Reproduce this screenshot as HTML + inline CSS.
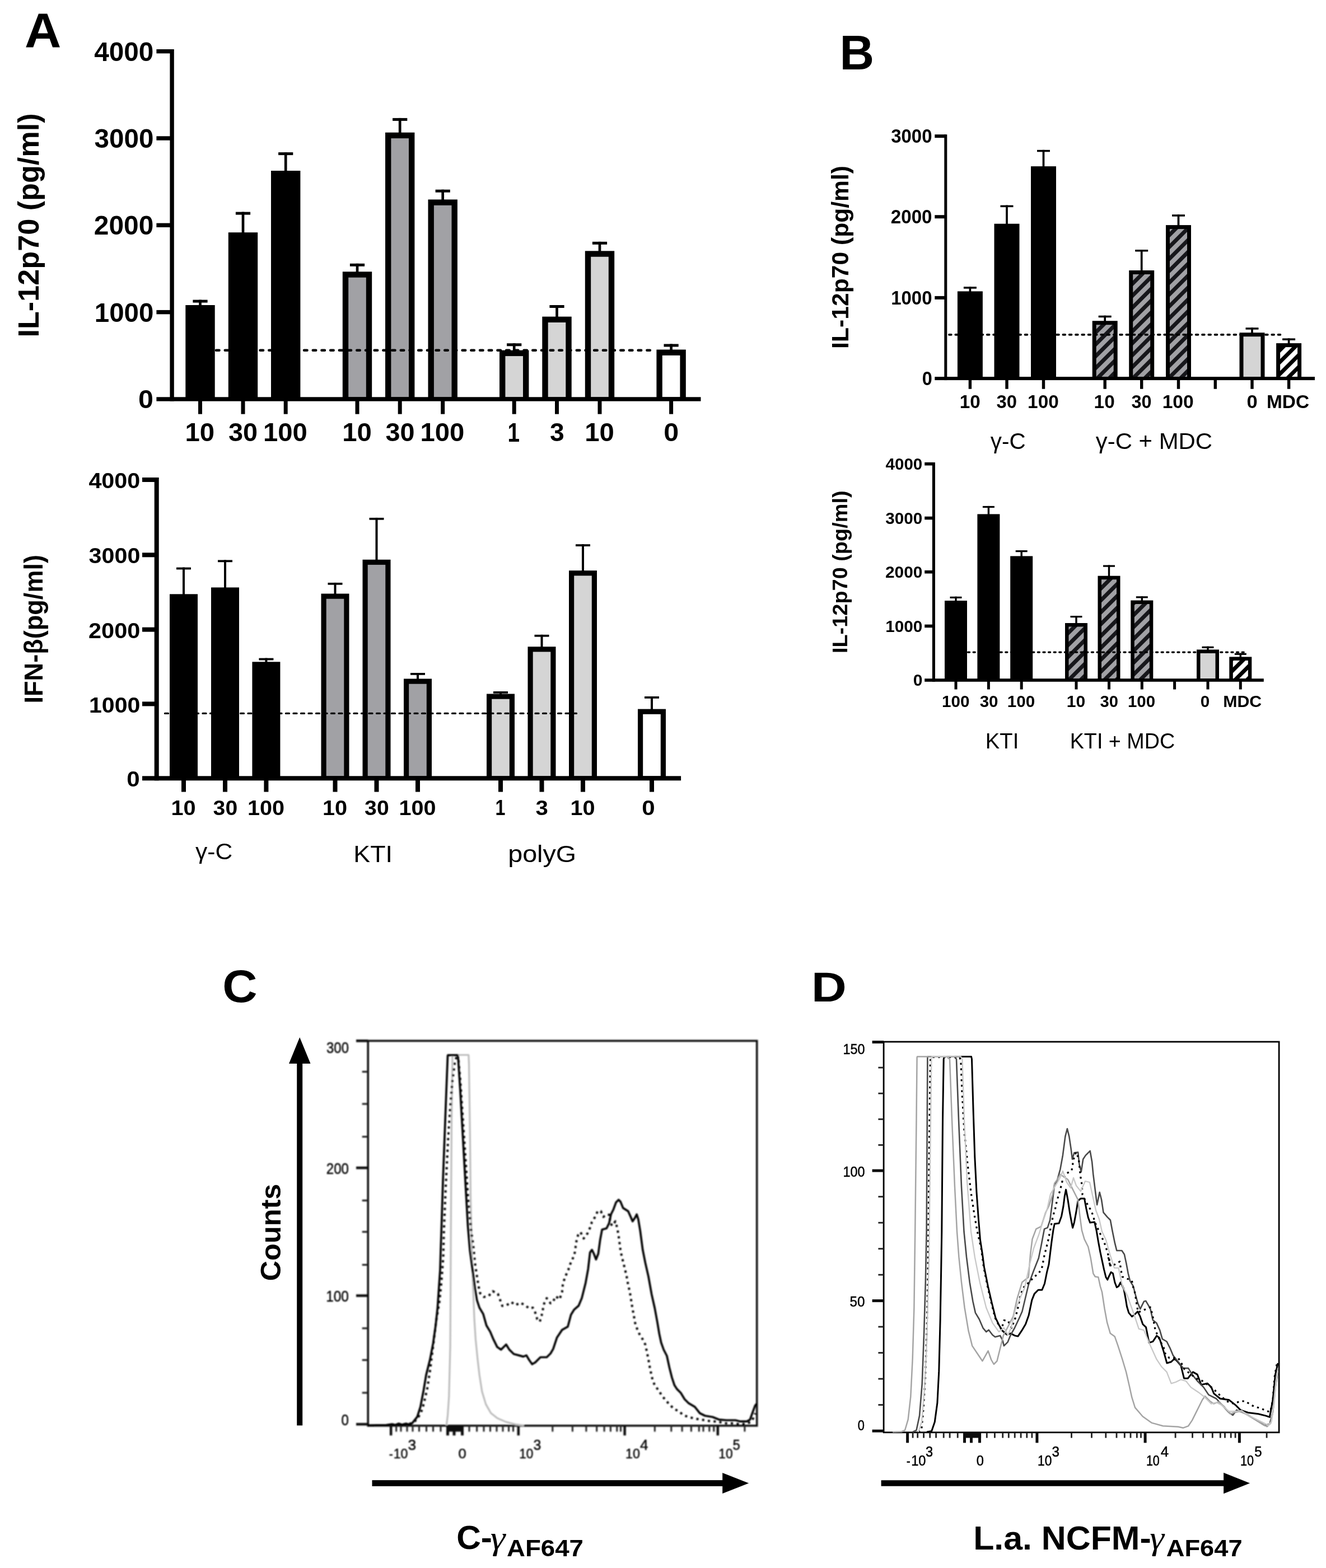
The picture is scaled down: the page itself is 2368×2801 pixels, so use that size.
<!DOCTYPE html>
<html><head><meta charset="utf-8"><title>Figure</title>
<style>html,body{margin:0;padding:0;background:#fff;overflow:hidden}svg{display:block}</style></head>
<body><svg width="2368" height="2801" viewBox="0 0 2368 2801"><defs><pattern id="hg" patternUnits="userSpaceOnUse" width="15" height="15" patternTransform="rotate(-45)"><rect width="15" height="15" fill="#a1a1a5"/><rect x="0" y="0" width="15" height="7.0" fill="#17171b"/></pattern><pattern id="hw" patternUnits="userSpaceOnUse" width="15" height="15" patternTransform="rotate(-45)"><rect width="15" height="15" fill="#fff"/><rect x="0" y="0" width="15" height="7.0" fill="#000"/></pattern><filter id="soft" x="-2%" y="-2%" width="104%" height="104%"><feGaussianBlur stdDeviation="0.8"/></filter><filter id="soft2" x="-2%" y="-2%" width="104%" height="104%"><feGaussianBlur stdDeviation="0.5"/></filter></defs><text transform="translate(43.94,84.10) scale(1.0295,1.0000)" font-family='"Liberation Sans", sans-serif' font-size="87.85" font-weight="bold" fill="#000">A</text>
<text transform="translate(1499.45,124.00) scale(0.9752,1.0000)" font-family='"Liberation Sans", sans-serif' font-size="87.42" font-weight="bold" fill="#000">B</text>
<text transform="translate(397.15,1789.68) scale(1.0559,1.0000)" font-family='"Liberation Sans", sans-serif' font-size="81.70" font-weight="bold" fill="#000">C</text>
<text transform="translate(1449.04,1788.90) scale(1.1825,1.0000)" font-family='"Liberation Sans", sans-serif' font-size="73.45" font-weight="bold" fill="#000">D</text>
<rect x="355.15" y="535.60" width="4.70" height="11.40" fill="#000"/>
<rect x="344.40" y="535.60" width="26.20" height="5.00" fill="#000"/>
<rect x="331.30" y="545.00" width="52.40" height="168.00" fill="#000"/>
<rect x="431.65" y="378.60" width="4.70" height="38.60" fill="#000"/>
<rect x="420.90" y="378.60" width="26.20" height="5.00" fill="#000"/>
<rect x="407.80" y="415.20" width="52.40" height="297.80" fill="#000"/>
<rect x="507.85" y="272.10" width="4.70" height="34.90" fill="#000"/>
<rect x="497.10" y="272.10" width="26.20" height="5.00" fill="#000"/>
<rect x="484.00" y="305.00" width="52.40" height="408.00" fill="#000"/>
<rect x="635.65" y="470.80" width="4.70" height="16.50" fill="#000"/>
<rect x="624.90" y="470.80" width="26.20" height="5.00" fill="#000"/>
<rect x="611.80" y="485.30" width="52.40" height="227.70" fill="#000"/>
<rect x="622.20" y="495.70" width="31.60" height="213.60" fill="#a1a1a5"/>
<rect x="711.85" y="210.90" width="4.70" height="27.80" fill="#000"/>
<rect x="701.10" y="210.90" width="26.20" height="5.00" fill="#000"/>
<rect x="688.00" y="236.70" width="52.40" height="476.30" fill="#000"/>
<rect x="698.40" y="247.10" width="31.60" height="462.20" fill="#a1a1a5"/>
<rect x="788.35" y="338.70" width="4.70" height="19.70" fill="#000"/>
<rect x="777.60" y="338.70" width="26.20" height="5.00" fill="#000"/>
<rect x="764.50" y="356.40" width="52.40" height="356.60" fill="#000"/>
<rect x="774.90" y="366.80" width="31.60" height="342.50" fill="#a1a1a5"/>
<rect x="915.85" y="613.30" width="4.70" height="14.40" fill="#000"/>
<rect x="905.10" y="613.30" width="26.20" height="5.00" fill="#000"/>
<rect x="892.00" y="625.70" width="52.40" height="87.30" fill="#000"/>
<rect x="902.40" y="636.10" width="31.60" height="73.20" fill="#d5d5d5"/>
<rect x="992.15" y="545.00" width="4.70" height="22.60" fill="#000"/>
<rect x="981.40" y="545.00" width="26.20" height="5.00" fill="#000"/>
<rect x="968.30" y="565.60" width="52.40" height="147.40" fill="#000"/>
<rect x="978.70" y="576.00" width="31.60" height="133.30" fill="#d5d5d5"/>
<rect x="1068.65" y="431.80" width="4.70" height="18.50" fill="#000"/>
<rect x="1057.90" y="431.80" width="26.20" height="5.00" fill="#000"/>
<rect x="1044.80" y="448.30" width="52.40" height="264.70" fill="#000"/>
<rect x="1055.20" y="458.70" width="31.60" height="250.60" fill="#d5d5d5"/>
<rect x="1196.25" y="614.50" width="4.70" height="12.00" fill="#000"/>
<rect x="1185.50" y="614.50" width="26.20" height="5.00" fill="#000"/>
<rect x="1172.40" y="624.50" width="52.40" height="88.50" fill="#000"/>
<rect x="1182.80" y="634.90" width="31.60" height="74.40" fill="#fff"/>
<line x1="386" y1="625.8" x2="1171" y2="625.8" stroke="#000" stroke-width="4.4" stroke-dasharray="5.6 10.1" stroke-linecap="round"/>
<rect x="303.40" y="88.00" width="7.40" height="628.70" fill="#000"/>
<rect x="279.40" y="709.30" width="972.10" height="7.40" fill="#000"/>
<rect x="279.40" y="88.00" width="27.70" height="7.40" fill="#000"/>
<rect x="279.40" y="243.30" width="27.70" height="7.40" fill="#000"/>
<rect x="279.40" y="398.60" width="27.70" height="7.40" fill="#000"/>
<rect x="279.40" y="553.90" width="27.70" height="7.40" fill="#000"/>
<rect x="354.00" y="713.00" width="7.00" height="26.70" fill="#000"/>
<rect x="430.50" y="713.00" width="7.00" height="26.70" fill="#000"/>
<rect x="506.70" y="713.00" width="7.00" height="26.70" fill="#000"/>
<rect x="634.50" y="713.00" width="7.00" height="26.70" fill="#000"/>
<rect x="710.70" y="713.00" width="7.00" height="26.70" fill="#000"/>
<rect x="787.20" y="713.00" width="7.00" height="26.70" fill="#000"/>
<rect x="914.70" y="713.00" width="7.00" height="26.70" fill="#000"/>
<rect x="991.00" y="713.00" width="7.00" height="26.70" fill="#000"/>
<rect x="1067.50" y="713.00" width="7.00" height="26.70" fill="#000"/>
<rect x="1195.10" y="713.00" width="7.00" height="26.70" fill="#000"/>
<text transform="translate(168.18,108.53) scale(1.0055,1.0000)" font-family='"Liberation Sans", sans-serif' font-size="47.49" font-weight="bold" fill="#000">4000</text>
<text transform="translate(168.43,263.71) scale(1.0067,1.0000)" font-family='"Liberation Sans", sans-serif' font-size="47.32" font-weight="bold" fill="#000">3000</text>
<text transform="translate(167.82,419.13) scale(1.0089,1.0000)" font-family='"Liberation Sans", sans-serif' font-size="47.49" font-weight="bold" fill="#000">2000</text>
<text transform="translate(168.73,574.62) scale(0.9972,1.0000)" font-family='"Liberation Sans", sans-serif' font-size="47.63" font-weight="bold" fill="#000">1000</text>
<text transform="translate(247.06,729.33) scale(1.0381,1.0000)" font-family='"Liberation Sans", sans-serif' font-size="46.64" font-weight="bold" fill="#000">0</text>
<text transform="translate(69.12,602.52) rotate(-90) scale(1.0192,1.0000)" font-family='"Liberation Sans", sans-serif' font-size="51.20" font-weight="bold" fill="#000">IL-12p70 (pg/ml)</text>
<text transform="translate(330.49,788.13) scale(1.0089,1.0000)" font-family='"Liberation Sans", sans-serif' font-size="46.93" font-weight="bold" fill="#000">10</text>
<text transform="translate(407.95,788.02) scale(1.0004,1.0000)" font-family='"Liberation Sans", sans-serif' font-size="46.76" font-weight="bold" fill="#000">30</text>
<text transform="translate(470.04,788.13) scale(1.0076,1.0000)" font-family='"Liberation Sans", sans-serif' font-size="46.93" font-weight="bold" fill="#000">100</text>
<text transform="translate(611.19,788.13) scale(1.0089,1.0000)" font-family='"Liberation Sans", sans-serif' font-size="46.93" font-weight="bold" fill="#000">10</text>
<text transform="translate(688.45,788.02) scale(1.0004,1.0000)" font-family='"Liberation Sans", sans-serif' font-size="46.76" font-weight="bold" fill="#000">30</text>
<text transform="translate(750.54,788.13) scale(1.0076,1.0000)" font-family='"Liberation Sans", sans-serif' font-size="46.93" font-weight="bold" fill="#000">100</text>
<text transform="translate(906.58,788.60) scale(0.8016,1.0000)" font-family='"Liberation Sans", sans-serif' font-size="48.29" font-weight="bold" fill="#000">1</text>
<text transform="translate(981.96,788.02) scale(0.9887,1.0000)" font-family='"Liberation Sans", sans-serif' font-size="46.76" font-weight="bold" fill="#000">3</text>
<text transform="translate(1044.19,788.13) scale(1.0089,1.0000)" font-family='"Liberation Sans", sans-serif' font-size="46.93" font-weight="bold" fill="#000">10</text>
<text transform="translate(1185.16,788.13) scale(1.0319,1.0000)" font-family='"Liberation Sans", sans-serif' font-size="46.93" font-weight="bold" fill="#000">0</text>
<rect x="326.00" y="1013.60" width="4.00" height="49.70" fill="#000"/>
<rect x="315.00" y="1013.60" width="26.00" height="3.80" fill="#000"/>
<rect x="303.00" y="1061.30" width="50.00" height="329.00" fill="#000"/>
<rect x="400.00" y="1000.40" width="4.00" height="51.00" fill="#000"/>
<rect x="389.00" y="1000.40" width="26.00" height="3.80" fill="#000"/>
<rect x="377.00" y="1049.40" width="50.00" height="340.90" fill="#000"/>
<rect x="473.40" y="1175.60" width="4.00" height="8.70" fill="#000"/>
<rect x="462.40" y="1175.60" width="26.00" height="3.80" fill="#000"/>
<rect x="450.40" y="1182.30" width="50.00" height="208.00" fill="#000"/>
<rect x="596.50" y="1040.90" width="4.00" height="21.60" fill="#000"/>
<rect x="585.50" y="1040.90" width="26.00" height="3.80" fill="#000"/>
<rect x="573.50" y="1060.50" width="50.00" height="329.80" fill="#000"/>
<rect x="582.70" y="1069.70" width="31.60" height="316.60" fill="#a1a1a5"/>
<rect x="670.50" y="924.90" width="4.00" height="76.80" fill="#000"/>
<rect x="659.50" y="924.90" width="26.00" height="3.80" fill="#000"/>
<rect x="647.50" y="999.70" width="50.00" height="390.60" fill="#000"/>
<rect x="656.70" y="1008.90" width="31.60" height="377.40" fill="#a1a1a5"/>
<rect x="744.00" y="1202.00" width="4.00" height="12.50" fill="#000"/>
<rect x="733.00" y="1202.00" width="26.00" height="3.80" fill="#000"/>
<rect x="721.00" y="1212.50" width="50.00" height="177.80" fill="#000"/>
<rect x="730.20" y="1221.70" width="31.60" height="164.60" fill="#a1a1a5"/>
<rect x="892.00" y="1235.00" width="4.00" height="6.50" fill="#000"/>
<rect x="881.00" y="1235.00" width="26.00" height="3.80" fill="#000"/>
<rect x="869.00" y="1239.50" width="50.00" height="150.80" fill="#000"/>
<rect x="878.20" y="1248.70" width="31.60" height="137.60" fill="#d5d5d5"/>
<rect x="965.50" y="1133.80" width="4.00" height="23.40" fill="#000"/>
<rect x="954.50" y="1133.80" width="26.00" height="3.80" fill="#000"/>
<rect x="942.50" y="1155.20" width="50.00" height="235.10" fill="#000"/>
<rect x="951.70" y="1164.40" width="31.60" height="221.90" fill="#d5d5d5"/>
<rect x="1039.00" y="972.20" width="4.00" height="49.00" fill="#000"/>
<rect x="1028.00" y="972.20" width="26.00" height="3.80" fill="#000"/>
<rect x="1016.00" y="1019.20" width="50.00" height="371.10" fill="#000"/>
<rect x="1025.20" y="1028.40" width="31.60" height="357.90" fill="#d5d5d5"/>
<rect x="1162.00" y="1244.00" width="4.00" height="24.60" fill="#000"/>
<rect x="1151.00" y="1244.00" width="26.00" height="3.80" fill="#000"/>
<rect x="1139.00" y="1266.60" width="50.00" height="123.70" fill="#000"/>
<rect x="1148.20" y="1275.80" width="31.60" height="110.50" fill="#fff"/>
<line x1="294.5" y1="1274.4" x2="1036.5" y2="1274.4" stroke="#000" stroke-width="3.3" stroke-dasharray="6 7.5" stroke-linecap="round"/>
<rect x="275.70" y="853.00" width="8.00" height="541.30" fill="#000"/>
<rect x="254.00" y="1386.30" width="962.10" height="8.00" fill="#000"/>
<rect x="254.00" y="853.00" width="25.70" height="8.00" fill="#000"/>
<rect x="254.00" y="987.30" width="25.70" height="8.00" fill="#000"/>
<rect x="254.00" y="1120.60" width="25.70" height="8.00" fill="#000"/>
<rect x="254.00" y="1253.40" width="25.70" height="8.00" fill="#000"/>
<rect x="324.00" y="1390.30" width="8.00" height="24.30" fill="#000"/>
<rect x="398.00" y="1390.30" width="8.00" height="24.30" fill="#000"/>
<rect x="471.40" y="1390.30" width="8.00" height="24.30" fill="#000"/>
<rect x="594.50" y="1390.30" width="8.00" height="24.30" fill="#000"/>
<rect x="668.50" y="1390.30" width="8.00" height="24.30" fill="#000"/>
<rect x="742.00" y="1390.30" width="8.00" height="24.30" fill="#000"/>
<rect x="890.00" y="1390.30" width="8.00" height="24.30" fill="#000"/>
<rect x="963.50" y="1390.30" width="8.00" height="24.30" fill="#000"/>
<rect x="1037.00" y="1390.30" width="8.00" height="24.30" fill="#000"/>
<rect x="1160.00" y="1390.30" width="8.00" height="24.30" fill="#000"/>
<text transform="translate(158.38,872.01) scale(1.0483,1.0000)" font-family='"Liberation Sans", sans-serif' font-size="39.43" font-weight="bold" fill="#000">4000</text>
<text transform="translate(158.57,1006.01) scale(1.0460,1.0000)" font-family='"Liberation Sans", sans-serif' font-size="39.44" font-weight="bold" fill="#000">3000</text>
<text transform="translate(158.05,1139.60) scale(1.0484,1.0000)" font-family='"Liberation Sans", sans-serif' font-size="39.58" font-weight="bold" fill="#000">2000</text>
<text transform="translate(158.93,1272.60) scale(1.0381,1.0000)" font-family='"Liberation Sans", sans-serif' font-size="39.58" font-weight="bold" fill="#000">1000</text>
<text transform="translate(226.32,1405.10) scale(1.0639,1.0000)" font-family='"Liberation Sans", sans-serif' font-size="39.58" font-weight="bold" fill="#000">0</text>
<text transform="translate(75.87,1256.55) rotate(-90) scale(0.9959,1.0000)" font-family='"Liberation Sans", sans-serif' font-size="45.33" font-weight="bold" fill="#000">IFN-β(pg/ml)</text>
<text transform="translate(349.09,1534.52) scale(1.0413,1.0000)" font-family='"Liberation Sans", sans-serif' font-size="40.88" fill="#000">γ-C</text>
<text transform="translate(631.31,1539.50) scale(1.0420,1.0000)" font-family='"Liberation Sans", sans-serif' font-size="42.91" fill="#000">KTI</text>
<text transform="translate(907.27,1539.90) scale(1.1122,1.0000)" font-family='"Liberation Sans", sans-serif' font-size="41.93" fill="#000">polyG</text>
<text transform="translate(305.52,1455.92) scale(1.0560,1.0000)" font-family='"Liberation Sans", sans-serif' font-size="37.60" font-weight="bold" fill="#000">10</text>
<text transform="translate(380.62,1455.83) scale(1.0447,1.0000)" font-family='"Liberation Sans", sans-serif' font-size="37.46" font-weight="bold" fill="#000">30</text>
<text transform="translate(441.92,1455.92) scale(1.0537,1.0000)" font-family='"Liberation Sans", sans-serif' font-size="37.60" font-weight="bold" fill="#000">100</text>
<text transform="translate(576.02,1455.92) scale(1.0560,1.0000)" font-family='"Liberation Sans", sans-serif' font-size="37.60" font-weight="bold" fill="#000">10</text>
<text transform="translate(651.12,1455.83) scale(1.0447,1.0000)" font-family='"Liberation Sans", sans-serif' font-size="37.46" font-weight="bold" fill="#000">30</text>
<text transform="translate(712.52,1455.92) scale(1.0537,1.0000)" font-family='"Liberation Sans", sans-serif' font-size="37.60" font-weight="bold" fill="#000">100</text>
<text transform="translate(884.48,1456.30) scale(0.8337,1.0000)" font-family='"Liberation Sans", sans-serif' font-size="38.69" font-weight="bold" fill="#000">1</text>
<text transform="translate(956.60,1455.83) scale(1.0730,1.0000)" font-family='"Liberation Sans", sans-serif' font-size="37.46" font-weight="bold" fill="#000">3</text>
<text transform="translate(1018.52,1455.92) scale(1.0560,1.0000)" font-family='"Liberation Sans", sans-serif' font-size="37.60" font-weight="bold" fill="#000">10</text>
<text transform="translate(1146.32,1455.92) scale(1.1199,1.0000)" font-family='"Liberation Sans", sans-serif' font-size="37.60" font-weight="bold" fill="#000">0</text>
<rect x="1730.55" y="512.20" width="3.70" height="10.20" fill="#000"/>
<rect x="1720.90" y="512.20" width="23.00" height="3.50" fill="#000"/>
<rect x="1709.90" y="520.40" width="45.00" height="155.70" fill="#000"/>
<rect x="1796.15" y="366.60" width="3.70" height="35.10" fill="#000"/>
<rect x="1786.50" y="366.60" width="23.00" height="3.50" fill="#000"/>
<rect x="1775.50" y="399.70" width="45.00" height="276.40" fill="#000"/>
<rect x="1861.65" y="267.80" width="3.70" height="31.30" fill="#000"/>
<rect x="1852.00" y="267.80" width="23.00" height="3.50" fill="#000"/>
<rect x="1841.00" y="297.10" width="45.00" height="379.00" fill="#000"/>
<rect x="1971.35" y="563.70" width="3.70" height="11.50" fill="#000"/>
<rect x="1961.70" y="563.70" width="23.00" height="3.50" fill="#000"/>
<rect x="1950.70" y="573.20" width="45.00" height="102.90" fill="#000"/>
<rect x="1957.70" y="580.20" width="31.00" height="92.90" fill="url(#hg)"/>
<rect x="2036.85" y="446.00" width="3.70" height="39.00" fill="#000"/>
<rect x="2027.20" y="446.00" width="23.00" height="3.50" fill="#000"/>
<rect x="2016.20" y="483.00" width="45.00" height="193.10" fill="#000"/>
<rect x="2023.20" y="490.00" width="31.00" height="183.10" fill="url(#hg)"/>
<rect x="2102.65" y="383.20" width="3.70" height="20.90" fill="#000"/>
<rect x="2093.00" y="383.20" width="23.00" height="3.50" fill="#000"/>
<rect x="2082.00" y="402.10" width="45.00" height="274.00" fill="#000"/>
<rect x="2089.00" y="409.10" width="31.00" height="264.00" fill="url(#hg)"/>
<rect x="2234.15" y="585.20" width="3.70" height="11.00" fill="#000"/>
<rect x="2224.50" y="585.20" width="23.00" height="3.50" fill="#000"/>
<rect x="2213.50" y="594.20" width="45.00" height="81.90" fill="#000"/>
<rect x="2220.50" y="601.20" width="31.00" height="71.90" fill="#d5d5d5"/>
<rect x="2299.75" y="604.40" width="3.70" height="10.70" fill="#000"/>
<rect x="2290.10" y="604.40" width="23.00" height="3.50" fill="#000"/>
<rect x="2279.10" y="613.10" width="45.00" height="63.00" fill="#000"/>
<rect x="2286.10" y="620.10" width="31.00" height="53.00" fill="url(#hw)"/>
<line x1="1695" y1="597.8" x2="2291" y2="597.8" stroke="#000" stroke-width="3.8" stroke-dasharray="3.8 7.5" stroke-linecap="round"/>
<rect x="1686.30" y="240.20" width="5.00" height="438.90" fill="#000"/>
<rect x="1669.30" y="673.10" width="678.70" height="6.00" fill="#000"/>
<rect x="1669.30" y="240.20" width="19.50" height="6.00" fill="#000"/>
<rect x="1669.30" y="384.20" width="19.50" height="6.00" fill="#000"/>
<rect x="1669.30" y="528.90" width="19.50" height="6.00" fill="#000"/>
<rect x="1729.70" y="676.10" width="5.40" height="18.70" fill="#000"/>
<rect x="1795.30" y="676.10" width="5.40" height="18.70" fill="#000"/>
<rect x="1860.80" y="676.10" width="5.40" height="18.70" fill="#000"/>
<rect x="1970.50" y="676.10" width="5.40" height="18.70" fill="#000"/>
<rect x="2036.00" y="676.10" width="5.40" height="18.70" fill="#000"/>
<rect x="2101.80" y="676.10" width="5.40" height="18.70" fill="#000"/>
<rect x="2233.30" y="676.10" width="5.40" height="18.70" fill="#000"/>
<rect x="2298.90" y="676.10" width="5.40" height="18.70" fill="#000"/>
<rect x="2167.60" y="676.10" width="5.40" height="18.70" fill="#000"/>
<text transform="translate(1591.26,254.87) scale(0.9539,1.0000)" font-family='"Liberation Sans", sans-serif' font-size="34.51" font-weight="bold" fill="#000">3000</text>
<text transform="translate(1590.84,399.06) scale(0.9600,1.0000)" font-family='"Liberation Sans", sans-serif' font-size="34.49" font-weight="bold" fill="#000">2000</text>
<text transform="translate(1591.24,544.06) scale(0.9547,1.0000)" font-family='"Liberation Sans", sans-serif' font-size="34.49" font-weight="bold" fill="#000">1000</text>
<text transform="translate(1646.70,688.26) scale(0.9478,1.0000)" font-family='"Liberation Sans", sans-serif' font-size="34.20" font-weight="bold" fill="#000">0</text>
<text transform="translate(1515.21,622.88) rotate(-90) scale(1.0200,1.0000)" font-family='"Liberation Sans", sans-serif' font-size="41.81" font-weight="bold" fill="#000">IL-12p70 (pg/ml)</text>
<text transform="translate(1768.80,801.69) scale(0.9870,1.0000)" font-family='"Liberation Sans", sans-serif' font-size="40.99" fill="#000">γ-C</text>
<text transform="translate(1956.80,801.69) scale(1.0222,1.0000)" font-family='"Liberation Sans", sans-serif' font-size="40.99" fill="#000">γ-C + MDC</text>
<text transform="translate(1713.77,728.66) scale(0.9884,1.0000)" font-family='"Liberation Sans", sans-serif' font-size="33.64" font-weight="bold" fill="#000">10</text>
<text transform="translate(1779.46,728.58) scale(0.9797,1.0000)" font-family='"Liberation Sans", sans-serif' font-size="33.52" font-weight="bold" fill="#000">30</text>
<text transform="translate(1835.12,728.66) scale(0.9915,1.0000)" font-family='"Liberation Sans", sans-serif' font-size="33.64" font-weight="bold" fill="#000">100</text>
<text transform="translate(1953.62,728.66) scale(0.9914,1.0000)" font-family='"Liberation Sans", sans-serif' font-size="33.64" font-weight="bold" fill="#000">10</text>
<text transform="translate(2020.47,728.58) scale(0.9683,1.0000)" font-family='"Liberation Sans", sans-serif' font-size="33.52" font-weight="bold" fill="#000">30</text>
<text transform="translate(2075.65,728.66) scale(1.0010,1.0000)" font-family='"Liberation Sans", sans-serif' font-size="33.64" font-weight="bold" fill="#000">100</text>
<text transform="translate(2226.62,728.66) scale(1.0264,1.0000)" font-family='"Liberation Sans", sans-serif' font-size="33.64" font-weight="bold" fill="#000">0</text>
<text transform="translate(2261.94,728.66) scale(0.9943,1.0000)" font-family='"Liberation Sans", sans-serif' font-size="33.64" font-weight="bold" fill="#000">MDC</text>
<rect x="1705.30" y="1065.70" width="3.40" height="9.30" fill="#000"/>
<rect x="1696.50" y="1065.70" width="21.00" height="3.20" fill="#000"/>
<rect x="1687.00" y="1073.00" width="40.00" height="142.00" fill="#000"/>
<rect x="1763.70" y="903.90" width="3.40" height="16.50" fill="#000"/>
<rect x="1754.90" y="903.90" width="21.00" height="3.20" fill="#000"/>
<rect x="1745.40" y="918.40" width="40.00" height="296.60" fill="#000"/>
<rect x="1822.50" y="983.00" width="3.40" height="12.40" fill="#000"/>
<rect x="1813.70" y="983.00" width="21.00" height="3.20" fill="#000"/>
<rect x="1804.20" y="993.40" width="40.00" height="221.60" fill="#000"/>
<rect x="1920.30" y="1100.00" width="3.40" height="15.00" fill="#000"/>
<rect x="1911.50" y="1100.00" width="21.00" height="3.20" fill="#000"/>
<rect x="1902.00" y="1113.00" width="40.00" height="102.00" fill="#000"/>
<rect x="1908.50" y="1119.50" width="27.00" height="92.70" fill="url(#hg)"/>
<rect x="1978.80" y="1009.50" width="3.40" height="21.20" fill="#000"/>
<rect x="1970.00" y="1009.50" width="21.00" height="3.20" fill="#000"/>
<rect x="1960.50" y="1028.70" width="40.00" height="186.30" fill="#000"/>
<rect x="1967.00" y="1035.20" width="27.00" height="177.00" fill="url(#hg)"/>
<rect x="2037.60" y="1065.20" width="3.40" height="9.30" fill="#000"/>
<rect x="2028.80" y="1065.20" width="21.00" height="3.20" fill="#000"/>
<rect x="2019.30" y="1072.50" width="40.00" height="142.50" fill="#000"/>
<rect x="2025.80" y="1079.00" width="27.00" height="133.20" fill="url(#hg)"/>
<rect x="2155.30" y="1154.70" width="3.40" height="7.70" fill="#000"/>
<rect x="2146.50" y="1154.70" width="21.00" height="3.20" fill="#000"/>
<rect x="2137.00" y="1160.40" width="40.00" height="54.60" fill="#000"/>
<rect x="2143.50" y="1166.90" width="27.00" height="45.30" fill="#d5d5d5"/>
<rect x="2213.60" y="1166.70" width="3.40" height="8.70" fill="#000"/>
<rect x="2204.80" y="1166.70" width="21.00" height="3.20" fill="#000"/>
<rect x="2195.30" y="1173.40" width="40.00" height="41.60" fill="#000"/>
<rect x="2201.80" y="1179.90" width="27.00" height="32.30" fill="url(#hw)"/>
<line x1="1728.5" y1="1165.1" x2="2226.5" y2="1165.1" stroke="#000" stroke-width="3.2" stroke-dasharray="3.2 6.4" stroke-linecap="round"/>
<rect x="1664.85" y="826.00" width="5.10" height="391.80" fill="#000"/>
<rect x="1651.20" y="1212.20" width="605.60" height="5.60" fill="#000"/>
<rect x="1651.20" y="825.90" width="16.20" height="5.60" fill="#000"/>
<rect x="1651.20" y="922.70" width="16.20" height="5.60" fill="#000"/>
<rect x="1651.20" y="1018.90" width="16.20" height="5.60" fill="#000"/>
<rect x="1651.20" y="1115.60" width="16.20" height="5.60" fill="#000"/>
<rect x="1704.50" y="1215.00" width="5.00" height="16.50" fill="#000"/>
<rect x="1762.90" y="1215.00" width="5.00" height="16.50" fill="#000"/>
<rect x="1821.70" y="1215.00" width="5.00" height="16.50" fill="#000"/>
<rect x="1919.50" y="1215.00" width="5.00" height="16.50" fill="#000"/>
<rect x="1978.00" y="1215.00" width="5.00" height="16.50" fill="#000"/>
<rect x="2036.80" y="1215.00" width="5.00" height="16.50" fill="#000"/>
<rect x="2154.50" y="1215.00" width="5.00" height="16.50" fill="#000"/>
<rect x="2212.80" y="1215.00" width="5.00" height="16.50" fill="#000"/>
<rect x="2095.10" y="1215.00" width="5.00" height="16.50" fill="#000"/>
<text transform="translate(1581.56,838.90) scale(0.9963,1.0000)" font-family='"Liberation Sans", sans-serif' font-size="29.68" font-weight="bold" fill="#000">4000</text>
<text transform="translate(1581.33,935.83) scale(1.0081,1.0000)" font-family='"Liberation Sans", sans-serif' font-size="29.44" font-weight="bold" fill="#000">3000</text>
<text transform="translate(1580.96,1032.30) scale(1.0104,1.0000)" font-family='"Liberation Sans", sans-serif' font-size="29.54" font-weight="bold" fill="#000">2000</text>
<text transform="translate(1581.14,1129.00) scale(1.0076,1.0000)" font-family='"Liberation Sans", sans-serif' font-size="29.54" font-weight="bold" fill="#000">1000</text>
<text transform="translate(1630.80,1225.10) scale(1.0191,1.0000)" font-family='"Liberation Sans", sans-serif' font-size="29.54" font-weight="bold" fill="#000">0</text>
<text transform="translate(1513.38,1167.06) rotate(-90) scale(1.0039,1.0000)" font-family='"Liberation Sans", sans-serif' font-size="37.76" font-weight="bold" fill="#000">IL-12p70 (pg/ml)</text>
<text transform="translate(1759.85,1336.60) scale(0.9945,1.0000)" font-family='"Liberation Sans", sans-serif' font-size="38.40" fill="#000">KTI</text>
<text transform="translate(1910.69,1336.92) scale(0.9851,1.0000)" font-family='"Liberation Sans", sans-serif' font-size="38.30" fill="#000">KTI + MDC</text>
<text transform="translate(1682.05,1262.91) scale(1.0232,1.0000)" font-family='"Liberation Sans", sans-serif' font-size="28.98" font-weight="bold" fill="#000">100</text>
<text transform="translate(1749.63,1262.84) scale(1.0250,1.0000)" font-family='"Liberation Sans", sans-serif' font-size="28.87" font-weight="bold" fill="#000">30</text>
<text transform="translate(1798.75,1262.91) scale(1.0232,1.0000)" font-family='"Liberation Sans", sans-serif' font-size="28.98" font-weight="bold" fill="#000">100</text>
<text transform="translate(1904.87,1262.91) scale(1.0379,1.0000)" font-family='"Liberation Sans", sans-serif' font-size="28.98" font-weight="bold" fill="#000">10</text>
<text transform="translate(1964.44,1262.84) scale(1.0117,1.0000)" font-family='"Liberation Sans", sans-serif' font-size="28.87" font-weight="bold" fill="#000">30</text>
<text transform="translate(2013.91,1262.91) scale(1.0166,1.0000)" font-family='"Liberation Sans", sans-serif' font-size="28.98" font-weight="bold" fill="#000">100</text>
<text transform="translate(2143.76,1262.91) scale(1.0245,1.0000)" font-family='"Liberation Sans", sans-serif' font-size="28.98" font-weight="bold" fill="#000">0</text>
<text transform="translate(2184.21,1262.91) scale(1.0452,1.0000)" font-family='"Liberation Sans", sans-serif' font-size="28.98" font-weight="bold" fill="#000">MDC</text>
<g filter="url(#soft)">
<rect x="657.2" y="1859.3" width="694.5" height="687.5000000000002" fill="none" stroke="#111" stroke-width="3.6"/>
<rect x="636.00" y="1857.00" width="21.20" height="4.60" fill="#111"/>
<rect x="636.00" y="2083.90" width="21.20" height="4.60" fill="#111"/>
<rect x="636.00" y="2312.20" width="21.20" height="4.60" fill="#111"/>
<rect x="636.00" y="2541.90" width="21.20" height="4.60" fill="#111"/>
<rect x="646.70" y="1912.90" width="10.50" height="3.20" fill="#222"/>
<rect x="646.70" y="1970.40" width="10.50" height="3.20" fill="#222"/>
<rect x="646.70" y="2029.00" width="10.50" height="3.20" fill="#222"/>
<rect x="646.70" y="2142.90" width="10.50" height="3.20" fill="#222"/>
<rect x="646.70" y="2198.90" width="10.50" height="3.20" fill="#222"/>
<rect x="646.70" y="2257.80" width="10.50" height="3.20" fill="#222"/>
<rect x="646.70" y="2371.20" width="10.50" height="3.20" fill="#222"/>
<rect x="646.70" y="2427.90" width="10.50" height="3.20" fill="#222"/>
<rect x="646.70" y="2486.40" width="10.50" height="3.20" fill="#222"/>
<rect x="695.95" y="2546.80" width="4.50" height="17.40" fill="#111"/>
<rect x="923.55" y="2546.80" width="4.50" height="17.40" fill="#111"/>
<rect x="1113.35" y="2546.80" width="4.50" height="17.40" fill="#111"/>
<rect x="1279.55" y="2546.80" width="4.50" height="17.40" fill="#111"/>
<rect x="706.20" y="2546.80" width="3.00" height="10.60" fill="#222"/>
<rect x="714.50" y="2546.80" width="3.00" height="10.60" fill="#222"/>
<rect x="725.50" y="2546.80" width="3.00" height="10.60" fill="#222"/>
<rect x="735.50" y="2546.80" width="3.00" height="10.60" fill="#222"/>
<rect x="747.00" y="2546.80" width="3.00" height="10.60" fill="#222"/>
<rect x="760.00" y="2546.80" width="3.00" height="10.60" fill="#222"/>
<rect x="772.00" y="2546.80" width="3.00" height="10.60" fill="#222"/>
<rect x="785.50" y="2546.80" width="3.00" height="10.60" fill="#222"/>
<rect x="836.50" y="2546.80" width="3.00" height="10.60" fill="#222"/>
<rect x="850.10" y="2546.80" width="3.00" height="10.60" fill="#222"/>
<rect x="862.50" y="2546.80" width="3.00" height="10.60" fill="#222"/>
<rect x="874.00" y="2546.80" width="3.00" height="10.60" fill="#222"/>
<rect x="885.50" y="2546.80" width="3.00" height="10.60" fill="#222"/>
<rect x="896.50" y="2546.80" width="3.00" height="10.60" fill="#222"/>
<rect x="907.00" y="2546.80" width="3.00" height="10.60" fill="#222"/>
<rect x="915.00" y="2546.80" width="3.00" height="10.60" fill="#222"/>
<rect x="985.30" y="2546.80" width="3.00" height="10.60" fill="#222"/>
<rect x="1020.90" y="2546.80" width="3.00" height="10.60" fill="#222"/>
<rect x="1045.40" y="2546.80" width="3.00" height="10.60" fill="#222"/>
<rect x="1064.20" y="2546.80" width="3.00" height="10.60" fill="#222"/>
<rect x="1077.60" y="2546.80" width="3.00" height="10.60" fill="#222"/>
<rect x="1088.90" y="2546.80" width="3.00" height="10.60" fill="#222"/>
<rect x="1100.30" y="2546.80" width="3.00" height="10.60" fill="#222"/>
<rect x="1107.00" y="2546.80" width="3.00" height="10.60" fill="#222"/>
<rect x="1167.80" y="2546.80" width="3.00" height="10.60" fill="#222"/>
<rect x="1197.30" y="2546.80" width="3.00" height="10.60" fill="#222"/>
<rect x="1216.60" y="2546.80" width="3.00" height="10.60" fill="#222"/>
<rect x="1232.90" y="2546.80" width="3.00" height="10.60" fill="#222"/>
<rect x="1246.80" y="2546.80" width="3.00" height="10.60" fill="#222"/>
<rect x="1254.50" y="2546.80" width="3.00" height="10.60" fill="#222"/>
<rect x="1265.30" y="2546.80" width="3.00" height="10.60" fill="#222"/>
<rect x="1273.30" y="2546.80" width="3.00" height="10.60" fill="#222"/>
<rect x="1328.40" y="2546.80" width="3.00" height="10.60" fill="#222"/>
<rect x="797.30" y="2546.80" width="30.70" height="10.60" fill="#111"/>
<rect x="797.00" y="2546.80" width="5.00" height="17.40" fill="#111"/>
<rect x="808.50" y="2546.80" width="5.00" height="17.40" fill="#111"/>
<rect x="823.00" y="2546.80" width="5.00" height="17.40" fill="#111"/>
<polyline points="797.3,2546.0 799.5,2528.8 801.8,2494.8 804.1,2404.0 805.2,2200.0 806.5,2000.0 808.0,1887.6 808.5,1884.5 836.8,1884.5 837.5,1900.0 839.5,2040.0 840.4,2134.8 843.0,2250.0 846.0,2330.0 847.2,2358.7 849.4,2392.7 852.8,2426.8 856.2,2456.2 860.8,2485.7 867.6,2508.4 876.6,2524.3 888.0,2533.3 903.9,2540.1 922.0,2544.7 935.6,2546.3" fill="none" stroke="#bdbdbd" stroke-width="3.2" stroke-linejoin="round"/>
<polyline points="700.0,2545.0 730.0,2544.0 740.0,2540.0 747.4,2531.1 754.2,2517.5 758.7,2499.3 763.3,2478.9 767.8,2449.4 773.5,2404.0 779.1,2358.7 784.8,2324.7 788.2,2290.7 791.6,2245.4 792.7,2200.0 796.0,2120.0 800.0,2040.0 804.0,1980.0 808.0,1930.0 812.0,1899.0 814.5,1890.0 817.0,1889.0 818.8,1894.4 822.0,1930.0 826.0,1990.0 830.0,2050.0 834.0,2110.0 838.0,2160.0 841.5,2200.0 844.9,2222.7 848.3,2256.7 851.7,2279.4 855.1,2299.8 857.4,2310.0 864.2,2316.8 872.1,2315.6 880.0,2306.6 889.1,2311.1 893.7,2323.6 897.0,2332.7 905.0,2331.5 912.9,2325.9 920.9,2331.5 928.8,2327.0 937.9,2331.5 944.7,2337.2 951.5,2336.0 956.0,2345.1 959.4,2356.5 964.0,2361.0 967.3,2349.7 969.6,2338.3 971.9,2328.1 976.4,2319.0 983.2,2328.1 986.8,2326.8 992.5,2315.5 999.3,2321.2 1003.8,2307.6 1004.9,2296.2 1007.2,2287.2 1010.6,2278.1 1015.1,2267.9 1018.5,2257.7 1023.1,2247.5 1026.5,2237.3 1028.1,2225.9 1029.9,2214.6 1032.2,2206.7 1036.7,2201.0 1042.4,2212.3 1049.2,2203.3 1053.7,2193.1 1057.1,2182.9 1062.8,2173.8 1067.3,2163.6 1073.0,2163.6 1077.5,2173.8 1083.2,2169.3 1090.0,2170.4 1088.8,2182.9 1093.4,2189.7 1099.0,2181.7 1102.4,2194.2 1104.3,2205.5 1105.9,2215.7 1107.0,2225.9 1108.8,2237.3 1111.1,2247.5 1113.8,2257.7 1116.1,2267.9 1118.8,2278.1 1120.6,2289.4 1122.9,2299.6 1125.1,2309.8 1126.9,2321.2 1128.5,2331.4 1130.3,2341.6 1132.4,2352.9 1134.2,2363.1 1137.6,2373.3 1142.1,2383.5 1147.8,2392.6 1152.3,2401.7 1154.6,2411.9 1156.9,2423.2 1159.1,2434.6 1160.7,2444.0 1163.2,2455.3 1165.5,2465.5 1169.3,2474.6 1176.1,2483.7 1181.8,2492.7 1188.2,2500.7 1195.4,2508.6 1203.4,2516.6 1212.4,2521.1 1220.4,2527.9 1229.4,2531.3 1239.6,2533.6 1249.8,2535.8 1260.0,2537.0 1270.2,2539.2 1281.6,2539.2 1294.1,2542.6 1306.5,2542.6 1320.1,2543.8 1331.5,2543.8 1340.5,2540.4 1345.1,2533.6 1348.5,2524.5" fill="none" stroke="#000" stroke-width="4.0" stroke-linejoin="round" stroke-dasharray="4 6.4"/>
<polyline points="657.0,2546.0 690.0,2545.5 700.0,2544.0 706.0,2545.5 712.0,2543.0 718.0,2545.0 725.0,2543.0 730.0,2544.5 736.0,2542.4 745.1,2531.0 750.8,2513.0 756.5,2483.4 761.0,2456.2 767.8,2429.0 773.5,2399.5 778.0,2367.8 781.4,2336.0 783.7,2302.0 786.0,2268.0 787.0,2234.0 788.5,2190.0 791.0,2110.0 794.0,2030.0 797.0,1950.0 799.5,1886.0 800.0,1884.8 817.0,1884.8 818.0,1888.0 822.0,1950.0 826.5,2030.0 831.0,2110.0 835.5,2190.0 839.2,2234.0 843.8,2268.0 848.3,2302.0 851.7,2322.4 856.2,2336.0 863.0,2347.4 868.7,2367.8 875.5,2379.1 881.2,2392.7 888.0,2406.3 894.8,2410.9 903.9,2401.8 909.5,2410.9 917.5,2418.8 926.5,2421.1 934.5,2423.4 940.1,2421.1 944.7,2429.0 950.3,2437.0 956.0,2433.6 965.1,2424.5 976.4,2424.5 983.2,2417.7 987.9,2409.6 994.7,2389.2 1003.8,2375.6 1014.0,2369.9 1019.7,2348.4 1025.4,2339.3 1033.3,2332.5 1039.0,2318.9 1045.8,2291.7 1050.3,2266.8 1053.7,2237.3 1057.1,2232.7 1060.5,2239.5 1064.4,2249.8 1068.4,2239.5 1071.8,2214.6 1075.2,2196.5 1083.2,2194.2 1087.7,2185.1 1091.1,2169.3 1095.6,2160.2 1100.2,2147.7 1104.7,2143.2 1108.1,2146.6 1112.7,2157.9 1121.7,2163.6 1126.3,2173.8 1129.7,2181.7 1134.2,2174.9 1137.1,2169.3 1139.9,2178.3 1143.3,2198.7 1147.8,2232.7 1152.3,2255.4 1158.0,2280.4 1163.7,2312.1 1169.3,2337.0 1173.9,2362.0 1177.3,2382.4 1180.7,2398.3 1185.2,2411.0 1190.9,2422.0 1195.4,2442.9 1200.0,2461.0 1204.5,2474.6 1209.0,2481.4 1215.8,2488.2 1222.6,2499.5 1229.4,2506.3 1240.8,2513.2 1249.8,2524.5 1258.9,2529.0 1272.5,2531.3 1283.9,2535.8 1297.5,2537.0 1313.3,2537.0 1322.4,2539.2 1333.7,2539.2 1339.4,2535.8 1343.9,2523.4 1348.5,2510.9 1351.4,2507.5" fill="none" stroke="#000" stroke-width="3.7" stroke-linejoin="round"/>
<text transform="translate(583.11,1881.13) scale(0.8747,1.0000)" font-family='"Liberation Sans", sans-serif' font-size="27.28" fill="#000" stroke="#000" stroke-width="0.5">300</text>
<text transform="translate(582.80,2096.83) scale(0.8816,1.0000)" font-family='"Liberation Sans", sans-serif' font-size="27.28" fill="#000" stroke="#000" stroke-width="0.5">200</text>
<text transform="translate(582.17,2325.03) scale(0.8958,1.0000)" font-family='"Liberation Sans", sans-serif' font-size="27.28" fill="#000" stroke="#000" stroke-width="0.5">100</text>
<text transform="translate(609.54,2546.03) scale(0.8829,1.0000)" font-family='"Liberation Sans", sans-serif' font-size="27.28" fill="#000" stroke="#000" stroke-width="0.5">0</text>
<text transform="translate(702.77,2605.05) scale(0.9322,1.0000)" font-family='"Liberation Sans", sans-serif' font-size="24.73" fill="#000" stroke="#000" stroke-width="0.5">10</text>
<text transform="translate(728.51,2589.55) scale(1.0344,1.0000)" font-family='"Liberation Sans", sans-serif' font-size="25.44" fill="#000" stroke="#000" stroke-width="0.5">3</text>
<rect x="695.50" y="2597.85" width="5.50" height="2.40" fill="#000"/>
<text transform="translate(818.58,2605.05) scale(1.0329,1.0000)" font-family='"Liberation Sans", sans-serif' font-size="24.73" fill="#000" stroke="#000" stroke-width="0.5">0</text>
<text transform="translate(927.31,2605.05) scale(0.9119,1.0000)" font-family='"Liberation Sans", sans-serif' font-size="24.73" fill="#000" stroke="#000" stroke-width="0.5">10</text>
<text transform="translate(952.57,2589.55) scale(0.9764,1.0000)" font-family='"Liberation Sans", sans-serif' font-size="25.44" fill="#000" stroke="#000" stroke-width="0.5">3</text>
<text transform="translate(1117.05,2605.05) scale(0.9443,1.0000)" font-family='"Liberation Sans", sans-serif' font-size="24.73" fill="#000" stroke="#000" stroke-width="0.5">10</text>
<text transform="translate(1143.11,2589.80) scale(0.9983,1.0000)" font-family='"Liberation Sans", sans-serif' font-size="26.18" fill="#000" stroke="#000" stroke-width="0.5">4</text>
<text transform="translate(1283.29,2605.05) scale(0.9200,1.0000)" font-family='"Liberation Sans", sans-serif' font-size="24.73" fill="#000" stroke="#000" stroke-width="0.5">10</text>
<text transform="translate(1308.55,2589.54) scale(0.9218,1.0000)" font-family='"Liberation Sans", sans-serif' font-size="25.81" fill="#000" stroke="#000" stroke-width="0.5">5</text>
</g>
<g filter="url(#soft2)">
<rect x="1578.1" y="1861" width="706.0" height="697.8000000000002" fill="none" stroke="#000" stroke-width="2.8"/>
<rect x="1557.60" y="1859.00" width="20.50" height="5.00" fill="#111"/>
<rect x="1557.60" y="2088.70" width="20.50" height="5.00" fill="#111"/>
<rect x="1557.60" y="2321.10" width="20.50" height="5.00" fill="#111"/>
<rect x="1557.60" y="2553.70" width="20.50" height="5.00" fill="#111"/>
<rect x="1568.40" y="1905.70" width="9.70" height="2.80" fill="#222"/>
<rect x="1568.40" y="1951.80" width="9.70" height="2.80" fill="#222"/>
<rect x="1568.40" y="1997.90" width="9.70" height="2.80" fill="#222"/>
<rect x="1568.40" y="2044.00" width="9.70" height="2.80" fill="#222"/>
<rect x="1568.40" y="2136.30" width="9.70" height="2.80" fill="#222"/>
<rect x="1568.40" y="2182.80" width="9.70" height="2.80" fill="#222"/>
<rect x="1568.40" y="2229.30" width="9.70" height="2.80" fill="#222"/>
<rect x="1568.40" y="2275.80" width="9.70" height="2.80" fill="#222"/>
<rect x="1568.40" y="2368.70" width="9.70" height="2.80" fill="#222"/>
<rect x="1568.40" y="2415.20" width="9.70" height="2.80" fill="#222"/>
<rect x="1568.40" y="2461.70" width="9.70" height="2.80" fill="#222"/>
<rect x="1568.40" y="2508.20" width="9.70" height="2.80" fill="#222"/>
<rect x="1618.10" y="2558.80" width="5.00" height="18.60" fill="#111"/>
<rect x="1849.40" y="2558.80" width="5.00" height="18.60" fill="#111"/>
<rect x="2042.60" y="2558.80" width="5.00" height="18.60" fill="#111"/>
<rect x="2210.90" y="2558.80" width="5.00" height="18.60" fill="#111"/>
<rect x="1628.70" y="2558.80" width="2.80" height="9.80" fill="#222"/>
<rect x="1637.30" y="2558.80" width="2.80" height="9.80" fill="#222"/>
<rect x="1648.20" y="2558.80" width="2.80" height="9.80" fill="#222"/>
<rect x="1659.30" y="2558.80" width="2.80" height="9.80" fill="#222"/>
<rect x="1670.20" y="2558.80" width="2.80" height="9.80" fill="#222"/>
<rect x="1683.80" y="2558.80" width="2.80" height="9.80" fill="#222"/>
<rect x="1694.70" y="2558.80" width="2.80" height="9.80" fill="#222"/>
<rect x="1708.80" y="2558.80" width="2.80" height="9.80" fill="#222"/>
<rect x="1760.90" y="2558.80" width="2.80" height="9.80" fill="#222"/>
<rect x="1775.00" y="2558.80" width="2.80" height="9.80" fill="#222"/>
<rect x="1789.30" y="2558.80" width="2.80" height="9.80" fill="#222"/>
<rect x="1799.90" y="2558.80" width="2.80" height="9.80" fill="#222"/>
<rect x="1810.80" y="2558.80" width="2.80" height="9.80" fill="#222"/>
<rect x="1821.70" y="2558.80" width="2.80" height="9.80" fill="#222"/>
<rect x="1832.40" y="2558.80" width="2.80" height="9.80" fill="#222"/>
<rect x="1841.50" y="2558.80" width="2.80" height="9.80" fill="#222"/>
<rect x="1912.10" y="2558.80" width="2.80" height="9.80" fill="#222"/>
<rect x="1948.10" y="2558.80" width="2.80" height="9.80" fill="#222"/>
<rect x="1973.40" y="2558.80" width="2.80" height="9.80" fill="#222"/>
<rect x="1992.60" y="2558.80" width="2.80" height="9.80" fill="#222"/>
<rect x="2006.90" y="2558.80" width="2.80" height="9.80" fill="#222"/>
<rect x="2017.60" y="2558.80" width="2.80" height="9.80" fill="#222"/>
<rect x="2028.90" y="2558.80" width="2.80" height="9.80" fill="#222"/>
<rect x="2036.10" y="2558.80" width="2.80" height="9.80" fill="#222"/>
<rect x="2097.70" y="2558.80" width="2.80" height="9.80" fill="#222"/>
<rect x="2128.10" y="2558.80" width="2.80" height="9.80" fill="#222"/>
<rect x="2147.30" y="2558.80" width="2.80" height="9.80" fill="#222"/>
<rect x="2163.90" y="2558.80" width="2.80" height="9.80" fill="#222"/>
<rect x="2177.90" y="2558.80" width="2.80" height="9.80" fill="#222"/>
<rect x="2186.10" y="2558.80" width="2.80" height="9.80" fill="#222"/>
<rect x="2196.80" y="2558.80" width="2.80" height="9.80" fill="#222"/>
<rect x="2204.70" y="2558.80" width="2.80" height="9.80" fill="#222"/>
<rect x="2260.70" y="2558.80" width="2.80" height="9.80" fill="#222"/>
<rect x="1720.40" y="2558.80" width="31.70" height="9.80" fill="#111"/>
<rect x="1720.00" y="2558.80" width="5.00" height="18.60" fill="#111"/>
<rect x="1732.00" y="2558.80" width="5.00" height="18.60" fill="#111"/>
<rect x="1747.00" y="2558.80" width="5.00" height="18.60" fill="#111"/>
<polyline points="1655.0,2558.0 1663.7,2556.5 1669.3,2540.0 1673.9,2506.0 1676.8,2449.4 1679.1,2358.7 1680.7,2268.0 1681.8,2200.0 1683.5,2000.0 1685.2,1892.0 1686.0,1887.5 1734.5,1887.5 1735.5,1892.0 1738.0,1980.0 1740.8,2066.8 1744.0,2130.0 1747.6,2180.0 1750.5,2215.0 1754.4,2240.0 1757.5,2263.5 1764.3,2297.5 1771.1,2327.0 1777.9,2354.2 1784.5,2367.8 1790.0,2377.0 1798.0,2384.0 1805.0,2382.0 1812.2,2385.9 1817.9,2387.1 1824.7,2376.9 1831.5,2365.5 1837.1,2349.7 1842.8,2322.4 1847.3,2311.1 1854.1,2304.3 1860.9,2304.3 1865.5,2293.0 1869.6,2272.5 1873.0,2258.9 1875.2,2240.8 1878.0,2218.1 1880.9,2197.7 1883.2,2186.3 1891.1,2185.2 1895.6,2172.7 1899.0,2154.6 1901.3,2136.5 1903.6,2125.1 1907.0,2143.3 1910.4,2165.9 1913.8,2184.1 1915.6,2193.2 1918.3,2184.1 1921.7,2165.9 1925.1,2145.0 1930.0,2141.0 1936.5,2141.0 1939.9,2159.1 1943.3,2175.0 1946.7,2184.1 1954.6,2182.9 1958.0,2197.7 1961.4,2218.1 1964.8,2236.2 1968.2,2252.1 1971.6,2268.0 1975.0,2281.6 1977.7,2286.1 1980.7,2279.3 1984.1,2272.5 1987.5,2274.8 1990.9,2290.7 1994.3,2299.7 1997.7,2297.5 2001.1,2290.7 2006.8,2302.0 2010.2,2320.1 2012.4,2333.7 2015.8,2345.1 2021.5,2351.9 2027.2,2347.3 2031.7,2342.8 2036.2,2351.9 2040.8,2365.5 2046.5,2370.9 2052.1,2398.7 2058.9,2396.4 2065.7,2386.2 2070.3,2389.6 2078.2,2414.6 2083.9,2435.0 2091.6,2432.7 2097.5,2427.0 2103.2,2432.7 2108.9,2439.5 2114.5,2462.2 2121.3,2462.2 2130.4,2450.9 2138.3,2455.4 2145.1,2473.6 2156.4,2471.3 2163.2,2478.1 2167.8,2489.4 2179.1,2498.5 2195.0,2500.8 2206.3,2509.8 2215.4,2518.9 2229.0,2523.4 2247.1,2525.7 2260.7,2529.1 2267.3,2531.4 2273.0,2500.8 2277.5,2455.4 2282.1,2435.0" fill="none" stroke="#000" stroke-width="3.0" stroke-linejoin="round"/>
<polyline points="1630.0,2558.0 1636.5,2555.0 1642.1,2528.8 1646.7,2472.1 1650.1,2381.4 1652.8,2290.7 1654.6,2200.0 1655.8,2000.0 1656.4,1889.0 1657.0,1887.5 1704.0,1887.5 1708.0,1892.0 1712.0,2000.0 1717.0,2120.0 1721.5,2200.0 1726.0,2245.4 1731.7,2290.7 1737.4,2324.7 1741.9,2345.1 1748.7,2356.5 1755.5,2372.3 1761.2,2379.1 1765.7,2375.7 1772.5,2384.8 1777.1,2388.2 1786.1,2385.9 1790.7,2395.0 1792.9,2404.1 1799.7,2397.3 1804.3,2385.9 1812.0,2372.0 1820.0,2355.0 1825.4,2342.8 1836.7,2295.2 1845.8,2270.2 1854.8,2247.6 1859.4,2224.9 1865.0,2195.4 1870.7,2193.1 1875.2,2179.5 1879.8,2143.3 1883.2,2116.1 1887.7,2109.3 1893.4,2088.8 1897.9,2063.9 1902.4,2029.9 1905.9,2016.3 1909.3,2029.9 1912.7,2052.6 1914.9,2070.7 1918.3,2059.4 1925.1,2058.2 1927.4,2079.8 1930.8,2093.4 1934.2,2070.7 1938.7,2063.9 1946.7,2056.0 1950.1,2075.2 1952.3,2097.9 1955.7,2125.1 1959.1,2152.3 1963.7,2129.7 1967.1,2143.3 1970.5,2165.9 1977.3,2173.9 1982.9,2179.5 1986.3,2197.7 1990.9,2220.4 1994.3,2234.0 2003.4,2234.0 2007.9,2240.8 2011.3,2256.6 2014.7,2274.8 2018.1,2288.4 2023.8,2297.5 2027.2,2311.1 2031.7,2327.0 2036.2,2338.3 2043.0,2324.7 2046.2,2323.9 2054.2,2337.5 2058.7,2357.9 2065.5,2363.6 2071.2,2376.1 2075.7,2391.9 2083.6,2396.5 2089.3,2407.8 2095.0,2421.4 2104.1,2432.7 2113.1,2444.1 2122.2,2444.1 2129.0,2455.4 2138.1,2466.8 2149.4,2478.1 2158.5,2491.7 2172.1,2498.5 2181.2,2508.7 2194.8,2523.4 2201.6,2528.0 2208.4,2518.9 2222.0,2523.4 2240.1,2534.8 2258.2,2546.1 2267.3,2543.9 2273.0,2523.4 2277.5,2478.1 2282.1,2450.9" fill="none" stroke="#484848" stroke-width="2.6" stroke-linejoin="round"/>
<polyline points="1640.0,2558.0 1645.5,2555.0 1648.9,2517.5 1652.3,2460.8 1655.1,2381.4 1656.9,2290.7 1658.0,2200.0 1660.0,2000.0 1661.5,1895.0 1662.5,1888.5 1714.0,1888.5 1716.0,1897.0 1718.0,1950.0 1722.0,2020.0 1728.0,2080.0 1734.0,2130.0 1740.0,2170.0 1745.3,2200.0 1752.1,2229.5 1756.7,2263.5 1763.5,2297.5 1770.3,2327.0 1777.1,2354.2 1783.9,2367.8 1788.4,2374.6 1793.0,2358.7 1799.7,2358.7 1804.3,2367.8 1806.5,2372.3 1813.3,2354.2 1817.9,2336.0 1822.4,2313.4 1826.9,2302.0 1831.5,2295.2 1838.3,2290.7 1845.8,2281.6 1854.8,2274.8 1860.5,2265.7 1862.8,2254.4 1865.0,2243.0 1872.0,2215.0 1880.9,2170.5 1884.3,2160.3 1886.6,2149.0 1890.0,2136.5 1893.4,2125.1 1897.9,2107.0 1905.0,2096.0 1913.8,2091.1 1917.2,2070.7 1921.7,2058.2 1926.3,2069.6 1927.4,2079.8 1928.5,2091.1 1929.7,2102.4 1931.5,2112.7 1932.4,2122.9 1933.1,2134.2 1940.0,2148.0 1947.8,2161.4 1952.3,2171.6 1954.6,2181.8 1962.0,2198.0 1968.2,2211.3 1972.7,2221.5 1976.1,2231.7 1979.1,2241.9 1981.4,2252.1 1982.9,2263.4 1979.0,2244.5 1983.9,2262.7 1999.7,2253.6 2002.0,2269.5 2004.3,2280.8 2021.3,2287.6 2023.6,2299.0 2027.0,2310.3 2030.4,2333.0 2032.6,2344.3 2054.2,2335.2 2057.6,2346.6 2059.8,2357.9 2063.2,2376.1 2072.3,2396.5 2078.0,2406.7 2080.2,2416.9 2088.2,2425.9 2104.1,2425.9 2109.7,2435.0 2115.4,2446.3 2124.5,2453.2 2135.8,2462.2 2147.1,2466.8 2163.0,2478.1 2169.8,2483.8 2177.8,2491.7 2185.7,2498.5 2194.8,2505.3 2205.0,2507.6 2214.0,2503.0 2224.2,2503.0 2232.2,2508.7 2241.2,2513.2 2251.4,2515.5 2260.5,2520.0 2268.5,2522.3 2273.0,2500.8 2276.4,2457.7 2280.5,2435.0" fill="none" stroke="#000" stroke-width="3.2" stroke-linejoin="round" stroke-dasharray="3.4 6.4"/>
<polyline points="1594.0,2558.0 1610.0,2557.5 1616.0,2555.0 1621.7,2535.6 1626.3,2494.8 1629.7,2426.8 1632.4,2336.0 1634.2,2200.0 1636.5,2000.0 1637.6,1889.0 1638.0,1887.5 1690.0,1887.5 1696.0,1892.0 1700.0,2000.0 1705.0,2120.0 1709.0,2200.0 1712.4,2245.4 1717.0,2290.7 1722.6,2336.0 1729.4,2376.9 1736.2,2404.1 1745.3,2417.7 1754.4,2431.3 1764.6,2413.2 1770.2,2429.0 1774.8,2437.0 1780.5,2431.3 1786.1,2408.6 1791.8,2385.9 1800.0,2370.0 1809.5,2351.3 1816.3,2320.1 1825.3,2290.5 1836.7,2281.5 1840.1,2240.3 1843.5,2213.5 1850.3,2195.4 1859.3,2190.9 1867.3,2166.0 1873.0,2154.6 1879.8,2134.2 1883.2,2113.8 1886.6,2109.3 1893.4,2097.9 1907.0,2107.0 1916.0,2125.1 1925.1,2143.3 1928.5,2172.7 1931.9,2197.7 1936.5,2213.6 1943.3,2227.2 1947.8,2247.6 1952.3,2274.8 1955.7,2280.5 1961.4,2281.6 1964.8,2297.5 1968.0,2308.0 1972.5,2337.5 1977.1,2362.4 1982.7,2381.7 1990.7,2387.4 1996.3,2403.3 2004.3,2428.2 2011.1,2450.9 2016.8,2475.8 2021.3,2496.2 2027.0,2514.4 2040.6,2530.3 2056.4,2541.6 2076.8,2547.3 2104.1,2548.8 2113.1,2550.7 2122.2,2547.3 2129.0,2537.1 2138.1,2518.9 2147.1,2500.8 2151.7,2494.0 2160.7,2503.0 2167.5,2507.6 2176.6,2504.2 2185.7,2512.1 2197.0,2525.7 2203.8,2523.4 2212.9,2521.2 2224.2,2525.7 2240.1,2534.8 2253.7,2543.8 2262.8,2548.4 2269.6,2541.6 2274.1,2512.1 2278.7,2466.8 2282.1,2444.1" fill="none" stroke="#a4a4a4" stroke-width="2.5" stroke-linejoin="round"/>
<polyline points="1640.0,2558.0 1646.0,2540.0 1651.0,2480.0 1655.0,2400.0 1659.0,2250.0 1662.0,2000.0 1663.5,1889.0 1664.0,1887.5 1716.0,1887.5 1718.5,1893.0 1722.0,2000.0 1727.0,2110.0 1734.0,2200.0 1740.8,2245.4 1749.8,2290.7 1761.2,2336.0 1772.5,2363.3 1783.9,2379.1 1793.0,2372.0 1800.0,2385.0 1806.0,2371.0 1813.0,2340.0 1822.0,2318.0 1830.0,2300.0 1838.0,2262.0 1846.0,2230.0 1855.0,2206.0 1863.0,2180.0 1870.0,2160.0 1876.0,2133.0 1885.0,2118.0 1893.0,2104.0 1898.0,2092.0 1905.0,2112.0 1912.0,2122.0 1917.0,2104.0 1922.0,2118.0 1930.0,2128.0 1938.0,2110.0 1946.0,2112.0 1951.0,2135.0 1957.0,2162.0 1963.0,2178.0 1968.0,2200.0 1975.0,2215.0 1982.0,2240.0 1990.0,2265.0 1997.5,2264.9 2004.3,2296.7 2013.4,2314.8 2027.0,2353.4 2033.8,2373.8 2042.8,2376.1 2054.2,2403.3 2065.5,2428.2 2074.6,2441.8 2083.6,2450.9 2091.6,2471.3 2099.5,2469.0 2108.6,2464.5 2117.7,2466.8 2126.7,2478.1 2140.3,2487.2 2151.7,2496.2 2163.0,2507.6 2172.1,2505.3 2181.2,2509.8 2194.8,2521.2 2206.1,2521.2 2217.4,2520.0 2228.8,2528.0 2242.4,2534.8 2256.0,2541.6 2265.1,2546.1 2270.7,2539.3 2275.3,2507.6 2279.1,2466.8 2282.1,2448.6" fill="none" stroke="#c8c8c8" stroke-width="2.3" stroke-linejoin="round"/>
<text transform="translate(1505.45,1883.24) scale(0.8928,1.0000)" font-family='"Liberation Sans", sans-serif' font-size="26.15" fill="#000" stroke="#000" stroke-width="0.5">150</text>
<text transform="translate(1505.45,2102.33) scale(0.8785,1.0000)" font-family='"Liberation Sans", sans-serif' font-size="26.57" fill="#000" stroke="#000" stroke-width="0.5">100</text>
<text transform="translate(1517.53,2333.94) scale(0.9210,1.0000)" font-family='"Liberation Sans", sans-serif' font-size="26.29" fill="#000" stroke="#000" stroke-width="0.5">50</text>
<text transform="translate(1531.73,2555.34) scale(0.8467,1.0000)" font-family='"Liberation Sans", sans-serif' font-size="25.72" fill="#000" stroke="#000" stroke-width="0.5">0</text>
<text transform="translate(1627.23,2617.75) scale(0.9417,1.0000)" font-family='"Liberation Sans", sans-serif' font-size="25.02" fill="#000" stroke="#000" stroke-width="0.5">10</text>
<text transform="translate(1653.12,2601.75) scale(0.9268,1.0000)" font-family='"Liberation Sans", sans-serif' font-size="25.44" fill="#000" stroke="#000" stroke-width="0.5">3</text>
<rect x="1619.50" y="2610.45" width="5.50" height="2.40" fill="#000"/>
<text transform="translate(1743.65,2617.75) scale(0.9459,1.0000)" font-family='"Liberation Sans", sans-serif' font-size="25.02" fill="#000" stroke="#000" stroke-width="0.5">0</text>
<text transform="translate(1853.09,2617.75) scale(0.9096,1.0000)" font-family='"Liberation Sans", sans-serif' font-size="25.02" fill="#000" stroke="#000" stroke-width="0.5">10</text>
<text transform="translate(1878.59,2601.75) scale(0.9516,1.0000)" font-family='"Liberation Sans", sans-serif' font-size="25.44" fill="#000" stroke="#000" stroke-width="0.5">3</text>
<text transform="translate(2046.88,2617.75) scale(0.8615,1.0000)" font-family='"Liberation Sans", sans-serif' font-size="25.02" fill="#000" stroke="#000" stroke-width="0.5">10</text>
<text transform="translate(2072.82,2602.00) scale(0.9832,1.0000)" font-family='"Liberation Sans", sans-serif' font-size="26.18" fill="#000" stroke="#000" stroke-width="0.5">4</text>
<text transform="translate(2215.08,2617.75) scale(0.8656,1.0000)" font-family='"Liberation Sans", sans-serif' font-size="25.02" fill="#000" stroke="#000" stroke-width="0.5">10</text>
<text transform="translate(2240.24,2601.74) scale(0.9300,1.0000)" font-family='"Liberation Sans", sans-serif' font-size="25.81" fill="#000" stroke="#000" stroke-width="0.5">5</text>
</g>
<rect x="530.20" y="1899.00" width="10.00" height="647.40" fill="#000"/>
<polygon points="516.0,1900.0 535.2,1853.0 554.5,1900.0" fill="#000"/>
<rect x="664.50" y="2644.10" width="626.70" height="10.80" fill="#000"/>
<polygon points="1290.2,2631.0 1337.2,2649.5 1290.2,2668.0" fill="#000"/>
<rect x="1573.60" y="2644.25" width="612.50" height="10.50" fill="#000"/>
<polygon points="2185.1,2630.8 2232.1,2649.5 2185.1,2668.2" fill="#000"/>
<text transform="translate(501.10,2288.32) rotate(-90) scale(0.9996,1.0000)" font-family='"Liberation Sans", sans-serif' font-size="50.46" font-weight="bold" fill="#000">Counts</text>
<text transform="translate(815.18,2767.20) scale(1.0152,1.0000)" font-family='"Liberation Sans", sans-serif' font-size="59.51" font-weight="bold" fill="#000">C-</text>
<text transform="translate(875.81,2767.36) scale(1.1390,1.0000)" font-family='"Liberation Serif", serif' font-size="59.48" font-style="italic" fill="#000">γ</text>
<text transform="translate(904.96,2780.17) scale(1.0697,1.0000)" font-family='"Liberation Sans", sans-serif' font-size="42.69" font-weight="bold" fill="#000">AF647</text>
<text transform="translate(1738.19,2767.70) scale(1.0173,1.0000)" font-family='"Liberation Sans", sans-serif' font-size="59.79" font-weight="bold" fill="#000">L.a. NCFM-</text>
<text transform="translate(2053.36,2766.52) scale(1.1109,1.0000)" font-family='"Liberation Serif", serif' font-size="58.74" font-style="italic" fill="#000">γ</text>
<text transform="translate(2082.67,2780.18) scale(1.0796,1.0000)" font-family='"Liberation Sans", sans-serif' font-size="41.98" font-weight="bold" fill="#000">AF647</text></svg></body></html>
